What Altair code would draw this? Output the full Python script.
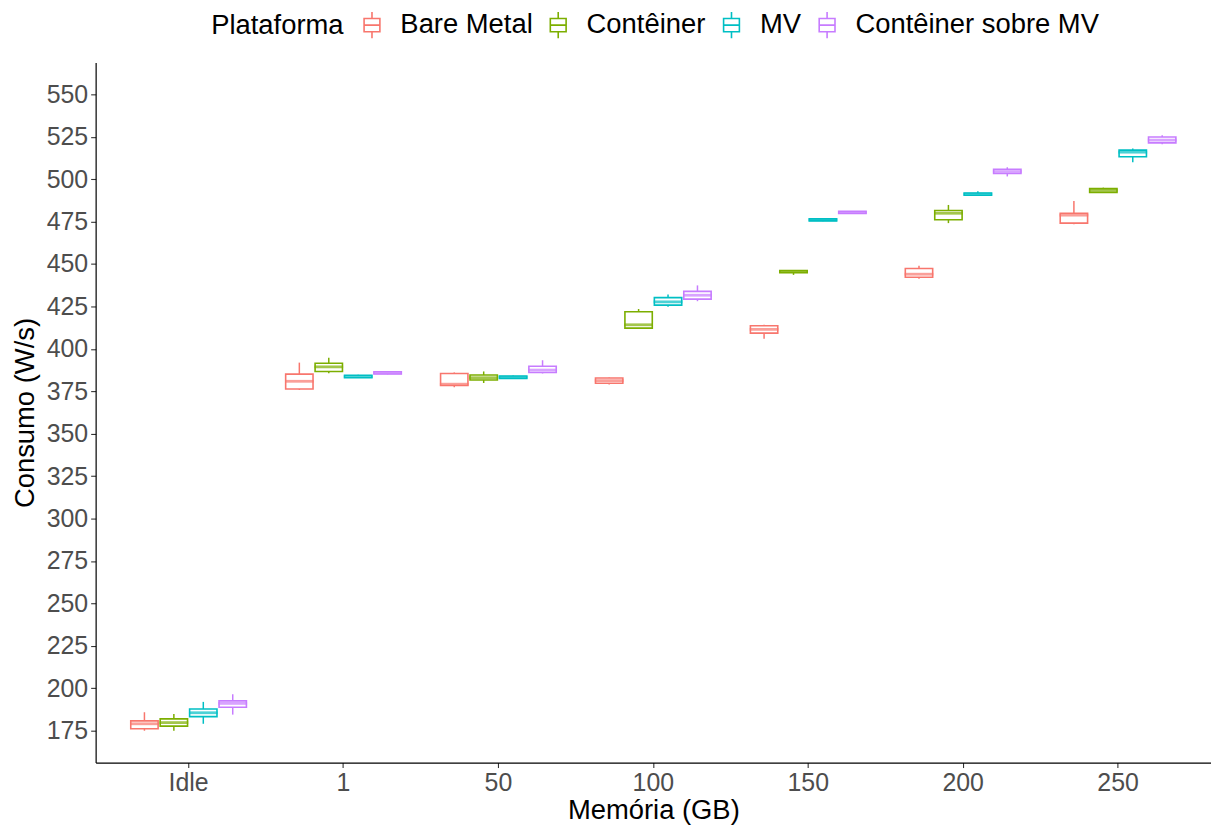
import altair as alt
import pandas as pd

groups = ["Idle", "1", "50", "100", "150", "200", "250"]
platforms = ["Bare Metal", "Contêiner", "MV", "Contêiner sobre MV"]
colors = ["#F8766D", "#7CAE00", "#00BFC4", "#C77CFF"]

# per platform: values per group (Idle, 1, 50, 100, 150, 200, 250)
bm_min = [175.0, 375.8, 377.4, 379.0, 406.0, 441.3, 473.5]
bm_q1 = [176.2, 376.4, 378.4, 379.7, 409.3, 442.2, 474.1]
bm_med = [179.1, 380.9, 379.2, 381.3, 411.5, 444.0, 478.8]
bm_q3 = [180.8, 385.1, 385.5, 382.8, 413.6, 447.4, 479.9]
bm_max = [185.9, 391.9, 386.1, 383.2, 414.2, 449.0, 487.1]

ct_min = [175.0, 385.7, 379.9, 411.8, 443.6, 474.1, 492.0]
ct_q1 = [177.7, 386.7, 381.7, 412.2, 444.9, 476.1, 492.2]
ct_med = [179.8, 389.4, 383.0, 414.2, 445.5, 479.9, 493.4]
ct_q3 = [182.0, 391.5, 384.6, 421.9, 446.2, 481.5, 494.4]
ct_max = [184.9, 394.8, 386.7, 423.5, 446.3, 484.8, 495.0]

mv_min = [179.1, 382.8, 382.5, 424.8, 475.2, 490.3, 509.9]
mv_q1 = [183.3, 383.0, 382.6, 425.8, 475.4, 490.5, 513.2]
mv_med = [185.6, 383.7, 383.3, 427.7, 476.0, 491.2, 515.9]
mv_q3 = [187.8, 384.5, 384.0, 430.2, 476.6, 491.8, 517.1]
mv_max = [192.0, 384.8, 384.3, 432.0, 477.0, 492.8, 518.1]

cm_min = [184.5, 385.0, 385.5, 428.1, 479.7, 501.6, 520.6]
cm_q1 = [188.8, 385.2, 386.1, 429.3, 479.8, 503.3, 521.4]
cm_med = [191.1, 385.8, 387.5, 431.6, 480.4, 504.5, 523.0]
cm_q3 = [192.6, 386.5, 389.8, 433.9, 481.0, 505.8, 524.8]
cm_max = [196.5, 386.7, 393.3, 437.4, 481.1, 507.0, 525.8]

stats = {
    "Bare Metal": (bm_min, bm_q1, bm_med, bm_q3, bm_max),
    "Contêiner": (ct_min, ct_q1, ct_med, ct_q3, ct_max),
    "MV": (mv_min, mv_q1, mv_med, mv_q3, mv_max),
    "Contêiner sobre MV": (cm_min, cm_q1, cm_med, cm_q3, cm_max),
}

rows = []
for p in platforms:
    mn, q1, md, q3, mx = stats[p]
    for i, g in enumerate(groups):
        rows.append({"Memoria": g, "Plataforma": p, "lo": mn[i], "q1": q1[i],
                     "med": md[i], "q3": q3[i], "hi": mx[i]})
df = pd.DataFrame(rows)

FONT = "Liberation Sans"
y_ticks = list(range(175, 551, 25))

x_enc = alt.X("Memoria:N", sort=groups, title="Memória (GB)",
              scale=alt.Scale(paddingInner=0, paddingOuter=0.1),
              axis=alt.Axis(labelAngle=0, labelFontSize=25, titleFontSize=27.5,
                            labelPadding=3, titlePadding=1))
xo_enc = alt.XOffset("Plataforma:N", sort=platforms,
                     scale=alt.Scale(paddingOuter=0.6667, paddingInner=0.07))
color_enc = alt.Color("Plataforma:N", sort=platforms,
                      scale=alt.Scale(domain=platforms, range=colors),
                      legend=alt.Legend(
                          title="Plataforma", orient="none", direction="horizontal",
                          legendX=116, legendY=-52, titleOrient="left",
                          titleFontSize=27.5, labelFontSize=27.5, titleFontWeight="normal",
                          titlePadding=14, labelOffset=14, columnPadding=11,
                          labelLimit=500,
                          symbolType="M0,-1L0,-0.5M-0.6,-0.5L0.6,-0.5L0.6,0.5L-0.6,0.5Z M-0.6,0L0.6,0M0,0.5L0,1",
                          symbolSize=700, symbolStrokeWidth=1.6,
                          symbolFillColor="white"))

y_scale = alt.Scale(domain=[156.25, 568.75], nice=False, zero=False)
y_axis = alt.Axis(values=y_ticks, labelFontSize=25, titleFontSize=27.5,
                  labelPadding=3, titlePadding=7)

base = alt.Chart(df).encode(x=x_enc, xOffset=xo_enc, color=color_enc)

whisk_lo = base.mark_rule(strokeWidth=1.5).encode(
    y=alt.Y("lo:Q", scale=y_scale, axis=y_axis, title="Consumo (W/s)"),
    y2="q1:Q")
whisk_hi = base.mark_rule(strokeWidth=1.5).encode(y="q3:Q", y2="hi:Q")
box = base.mark_bar(filled=False, strokeWidth=1.6).encode(y="q1:Q", y2="q3:Q")
med = base.mark_tick(filled=False, thickness=1, strokeWidth=1.8, size=27).encode(y="med:Q")

chart = alt.layer(whisk_lo, whisk_hi, box, med).properties(
    width=1120, height=703,
    padding={"left": 3, "top": 1, "right": 0, "bottom": 0},
).configure_view(stroke=None).configure_axis(
    grid=False, domainColor="black", domainWidth=1.2, tickColor="#333333",
    tickSize=5, tickWidth=1.1, labelColor="#4D4D4D", titleColor="black",
    labelFont=FONT, titleFont=FONT, titleFontWeight="normal",
).configure_legend(labelFont=FONT, titleFont=FONT)

chart.save("out.html", embed_options={"renderer": "svg", "actions": False})
